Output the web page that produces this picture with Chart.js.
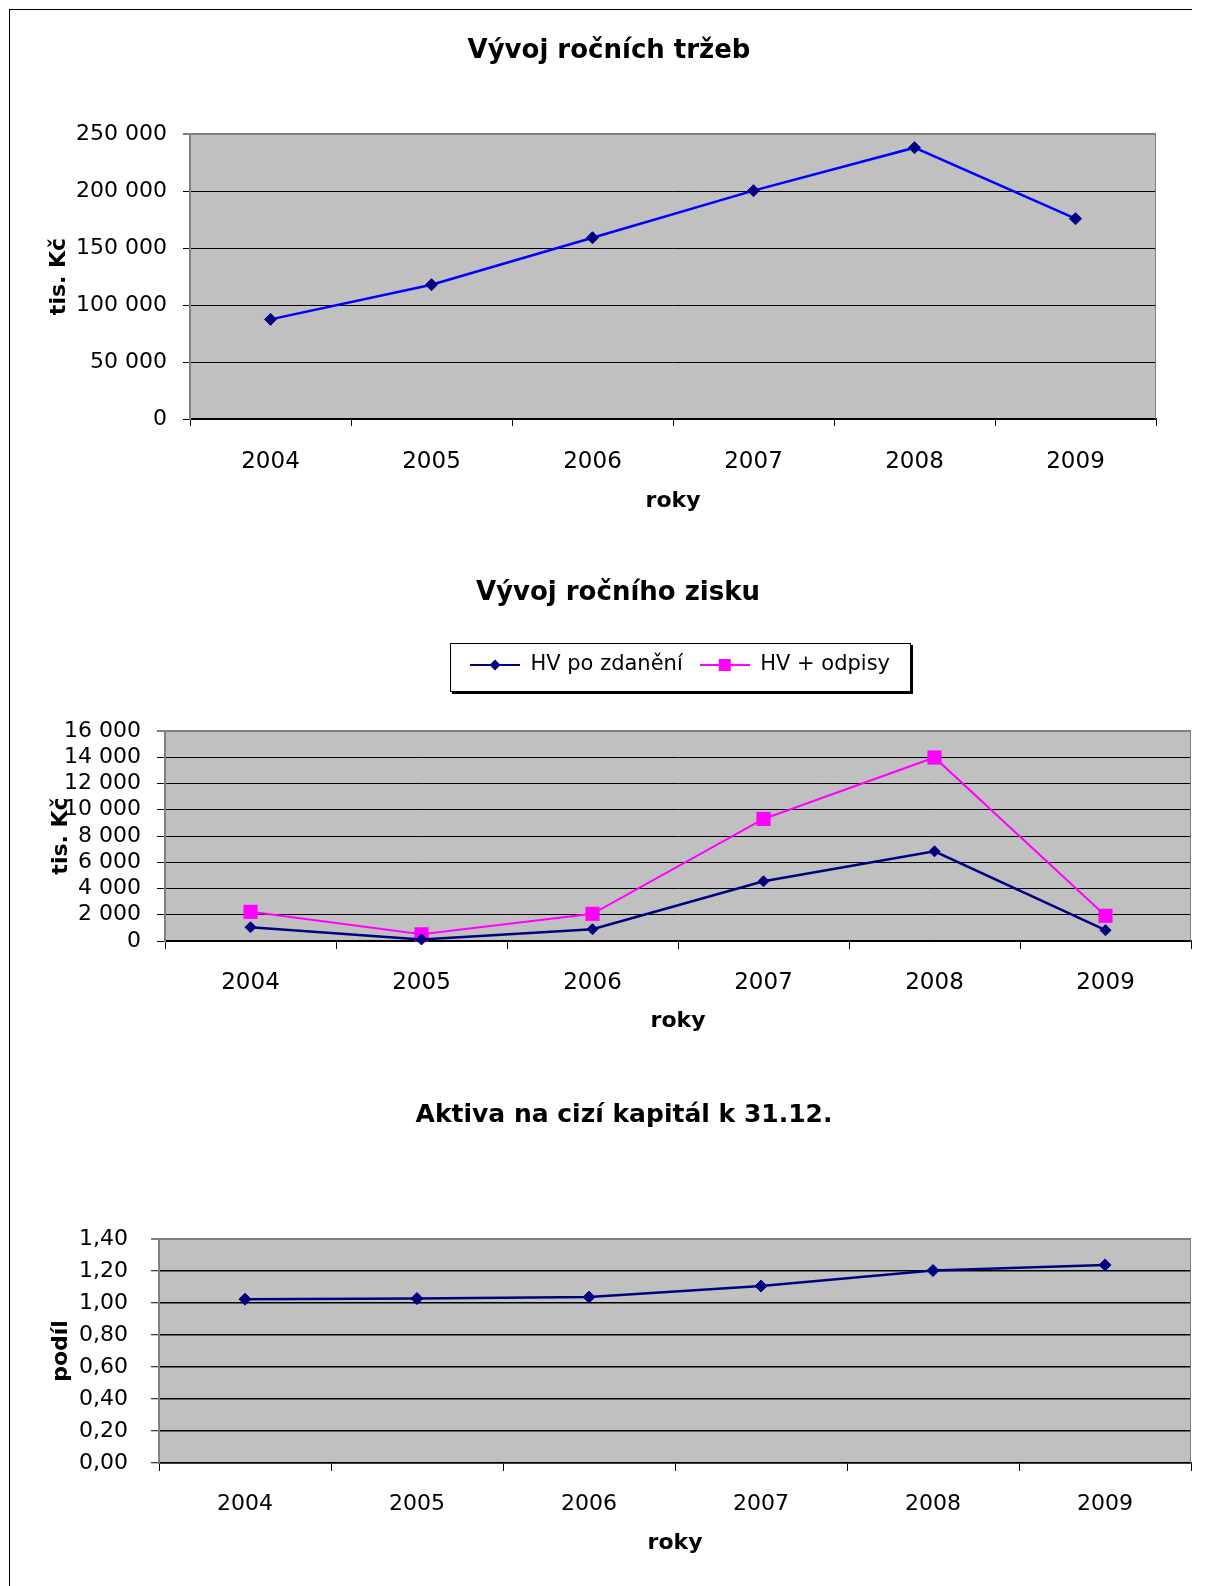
<!DOCTYPE html>
<html><head><meta charset="utf-8">
<script src="https://cdn.jsdelivr.net/npm/chart.js@4.4.1/dist/chart.umd.min.js"></script>
<style>
html,body{margin:0;padding:0;background:#fff;}
body{width:1206px;height:1586px;position:relative;overflow:hidden;}
canvas{position:absolute;left:0;}
#frameTop{position:absolute;left:9px;top:9px;width:1183px;height:1px;background:#000;}
#frameLeft{position:absolute;left:9px;top:9px;width:1px;height:1577px;background:#000;}
</style></head><body>
<div id="frameTop"></div><div id="frameLeft"></div>
<canvas id="c1" width="1206" height="540" style="top:0px"></canvas>
<canvas id="c2" width="1206" height="520" style="top:540px"></canvas>
<canvas id="c3" width="1206" height="526" style="top:1060px"></canvas>
<script>
// ---- data ----
const years = ['2004', '2005', '2006', '2007', '2008', '2009'];
const trzby = [87400, 117800, 159000, 200300, 238000, 175700];
const hvPoZdaneni = [1050, 120, 900, 4550, 6830, 820];
const hvOdpisy = [2220, 510, 2070, 9300, 13980, 1920];
const aktivaNaCiziKapital = [1.024, 1.028, 1.037, 1.106, 1.203, 1.238];
const yTicks1 = ['0', '50 000', '100 000', '150 000', '200 000', '250 000'];
const yTicks2 = ['0', '2 000', '4 000', '6 000', '8 000', '10 000', '12 000', '14 000', '16 000'];
const yTicks3 = ['0,00', '0,20', '0,40', '0,60', '0,80', '1,00', '1,20', '1,40'];
const seriesNames = ['HV po zdanění', 'HV + odpisy'];

const NAVY = '#000080', BLUE = '#0000FF', MAGENTA = '#FF00FF';
const FONT = 'DejaVu Sans';

const plotBg = {
  id: 'plotBg',
  beforeDraw(chart) {
    const a = chart.chartArea, c = chart.ctx;
    c.save(); c.fillStyle = '#c0c0c0';
    c.fillRect(a.left, a.top, a.right - a.left, a.bottom - a.top);
    c.restore();
  },
  beforeDatasetsDraw(chart) {
    const a = chart.chartArea, c = chart.ctx;
    c.save(); c.strokeStyle = '#808080'; c.lineWidth = 1;
    c.beginPath(); c.moveTo(a.right - 0.5, a.top); c.lineTo(a.right - 0.5, a.bottom); c.stroke();
    c.restore();
  }
};

function legendImg(lineColor, markerColor, shape) {
  const c = document.createElement('canvas');
  c.width = 50; c.height = 16;
  const g = c.getContext('2d');
  g.strokeStyle = lineColor; g.lineWidth = 2;
  g.beginPath(); g.moveTo(0, 8); g.lineTo(50, 8); g.stroke();
  g.fillStyle = markerColor;
  if (shape === 'diamond') {
    g.beginPath(); g.moveTo(25, 2.5); g.lineTo(30.5, 8); g.lineTo(25, 13.5); g.lineTo(19.5, 8); g.closePath(); g.fill();
  } else {
    g.fillRect(19, 2, 12, 12);
  }
  return c;
}
const legendImgs = [legendImg(NAVY, NAVY, 'diamond'), legendImg(MAGENTA, MAGENTA, 'square')];

function buildOptions(p) {
  const isTop = c => c.tick && Math.abs(c.tick.value - p.yMax) < 1e-9;
  return {
    responsive: false, animation: false, devicePixelRatio: 1,
    layout: { padding: { left: p.L, right: p.R, top: 0, bottom: p.B } },
    plugins: {
      title: { display: true, text: p.title, color: '#000',
        font: { family: FONT, weight: 'bold', size: p.titleSize, lineHeight: 1.2 },
        padding: { top: p.tPt, bottom: p.tPb } },
      legend: p.legend || { display: false },
      tooltip: { enabled: false }
    },
    scales: {
      x: {
        type: 'category', offset: true,
        grid: { offset: true, drawOnChartArea: false, drawTicks: true, tickLength: p.xTl, tickColor: '#000', tickWidth: 1 },
        border: { display: true, color: '#000', width: 1.5 },
        ticks: { color: '#000', font: { family: FONT, size: p.xFont, lineHeight: 1.2 }, padding: p.xPad, maxRotation: 0, autoSkip: false },
        title: { display: true, text: 'roky', color: '#000', font: { family: FONT, weight: 'bold', size: 22, lineHeight: 1.2 }, padding: { top: 0, bottom: p.xTitlePb } },
        afterFit(s) { s.height = p.xH; }
      },
      y: {
        min: 0, max: p.yMax,
        ticks: { stepSize: p.yStep, autoSkip: false, color: '#000', font: { family: FONT, size: p.yFont, lineHeight: 1.2 }, padding: p.yPad,
          callback: (v, i) => p.yLabels[i] },
        grid: { color: c => isTop(c) ? '#808080' : '#000', lineWidth: c => isTop(c) ? 2 : p.gridW,
          tickColor: '#000', tickLength: p.yTl, tickWidth: 1 },
        border: { display: true, color: '#808080', width: 2 },
        title: { display: true, text: p.yTitle, color: '#000', font: { family: FONT, weight: 'bold', size: 22, lineHeight: 1.2 }, padding: { top: p.yTitlePt, bottom: 0 } },
        afterFit(s) { s.width = p.yW; }
      }
    }
  };
}

// Chart 1
new Chart(document.getElementById('c1'), {
  type: 'line',
  data: { labels: years, datasets: [{
    label: 'tržby', data: trzby, borderColor: BLUE, borderWidth: 2.5, tension: 0, clip: false,
    pointStyle: 'rectRot', pointRadius: 6, pointBackgroundColor: NAVY, pointBorderColor: NAVY, pointBorderWidth: 1
  }] },
  options: buildOptions({ L: 62, R: 50, B: 21, title: 'Vývoj ročních tržeb', titleSize: 26, tPt: 35.4, tPb: 67.4,
    yW: 128, yTitle: 'tis. Kč', yTitlePt: -16.2, yMax: 250000, yStep: 50000, yLabels: yTicks1, yFont: 22, yTl: 7, yPad: 16,
    xH: 100, xTl: 7, xPad: 22, xFont: 23, xTitlePb: 4.8, gridW: 1 }),
  plugins: [plotBg]
});

// Chart 2
const legendAdjust = {
  id: 'legendAdjust',
  afterLayout(chart) {
    const lg = chart.legend;
    lg.left += 62; lg.right += 62;
    lg.top -= 45.5; lg.bottom -= 45.5;
  },
  afterDraw(chart) {
    const hb = chart.legend.legendHitBoxes;
    if (!hb || !hb.length) return;
    const left = Math.round(hb[0].left - 20);
    const last = hb[hb.length - 1];
    const right = Math.round(last.left + last.width + 20);
    const cy = hb[0].top + 10.5;
    const top = Math.round(cy - 22), bottom = Math.round(cy + 26);
    const c = chart.ctx;
    c.save();
    c.strokeStyle = '#000'; c.lineWidth = 1;
    c.strokeRect(left + 0.5, top + 0.5, right - left, bottom - top);
    c.lineWidth = 2;
    c.beginPath();
    c.moveTo(right + 2, top + 2); c.lineTo(right + 2, bottom + 2); c.lineTo(left + 2, bottom + 2);
    c.stroke();
    c.restore();
  }
};
new Chart(document.getElementById('c2'), {
  type: 'line',
  data: { labels: years, datasets: [
    { label: seriesNames[0], data: hvPoZdaneni, borderColor: NAVY, borderWidth: 2.5, tension: 0, clip: false,
      pointStyle: 'rectRot', pointRadius: 5.5, pointBackgroundColor: NAVY, pointBorderColor: NAVY, pointBorderWidth: 1 },
    { label: seriesNames[1], data: hvOdpisy, borderColor: MAGENTA, borderWidth: 2, tension: 0, clip: false,
      pointStyle: 'rect', pointRadius: 10, pointBackgroundColor: MAGENTA, pointBorderColor: MAGENTA, pointBorderWidth: 0 }
  ] },
  options: buildOptions({ L: 45, R: 15, B: 19, title: 'Vývoj ročního zisku', titleSize: 26, tPt: 37.4, tPb: 74.4,
    yW: 120, yTitle: 'tis. Kč', yTitlePt: 2.8, yMax: 16000, yStep: 2000, yLabels: yTicks2, yFont: 22, yTl: 8, yPad: 16,
    xH: 100, xTl: 8, xPad: 20, xFont: 23, xTitlePb: 6.8, gridW: 1,
    legend: { display: true, position: 'top',
      labels: { usePointStyle: true, pointStyleWidth: 50, padding: 17, color: '#000', font: { family: FONT, size: 21 },
        generateLabels: ch => ch.data.datasets.map((d, i) => ({ text: d.label, pointStyle: legendImgs[i], fillStyle: 'transparent',
          strokeStyle: 'transparent', lineWidth: 0, hidden: false, datasetIndex: i, fontColor: '#000' })) } } }),
  plugins: [plotBg, legendAdjust]
});

// Chart 3
new Chart(document.getElementById('c3'), {
  type: 'line',
  data: { labels: years, datasets: [{
    label: 'podíl', data: aktivaNaCiziKapital, borderColor: NAVY, borderWidth: 2.5, tension: 0, clip: false,
    pointStyle: 'rectRot', pointRadius: 6, pointBackgroundColor: NAVY, pointBorderColor: NAVY, pointBorderWidth: 1
  }] },
  options: buildOptions({ L: 57, R: 15, B: 23, title: 'Aktiva na cizí kapitál k 31.12.', titleSize: 25, tPt: 40, tPb: 109,
    yW: 102, yTitle: 'podíl', yTitlePt: -9.2, yMax: 1.4, yStep: 0.2, yLabels: yTicks3, yFont: 22, yTl: 8, yPad: 23,
    xH: 100, xTl: 8, xPad: 20, xFont: 22, xTitlePb: 6.8, gridW: 1.5 }),
  plugins: [plotBg]
});
</script>
</body></html>
